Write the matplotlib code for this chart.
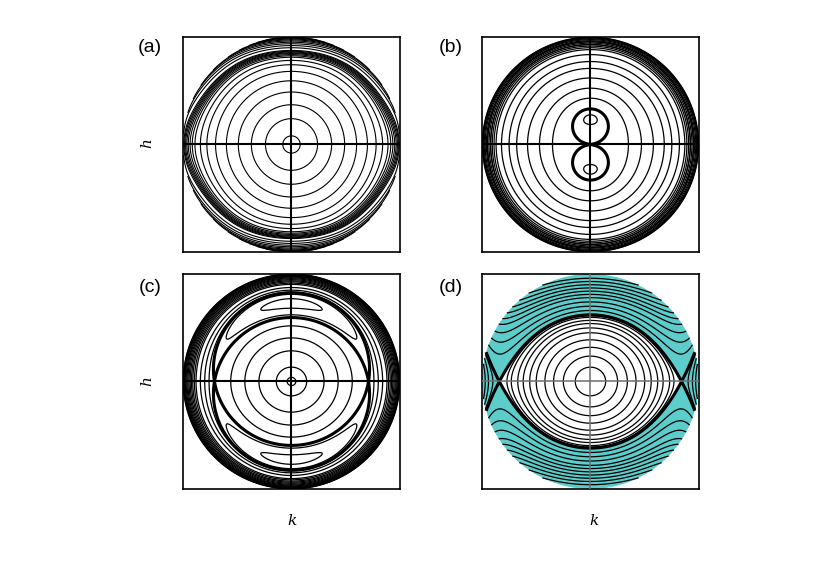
import numpy as np
import matplotlib.pyplot as plt
from matplotlib.patches import Circle

# energy on the upper hemisphere, seen from above:
# H = z + a k^2 + b h^2 + e (k^8 - h^8),  z = sqrt(1 - k^2 - h^2)
par_a = (-1.0, -1.0, 0.45)
par_b = (0.4995, 0.5145, 0.0)
par_c = (0.71, 0.73, 0.0)

# panel (d): H = V(k) + B h^2 (1 - c k^2),  V = k^2 + p k^4 - q k^6
par_d = (-0.2867, 0.3987, 1.1, 0.3)
k_saddle_d = 0.84

# starting points of the drawn orbits
seeds_k_a = [0.08, 0.24, 0.37, 0.49, 0.60, 0.70, 0.78, 0.84, 0.89,
             0.915, 0.935, 0.952, 0.965, 0.976, 0.985, 0.992]
seeds_h_a = [0.90, 0.92, 0.937, 0.951, 0.963, 0.973, 0.981, 0.988,
             0.993, 0.997]

seeds_k_b = [0.35, 0.47, 0.58, 0.68, 0.75, 0.82, 0.87, 0.92, 0.95]
seeds_h_b = [0.276, 0.9, 0.915, 0.93, 0.943, 0.955, 0.965, 0.975,
             0.983, 0.99, 0.995, 0.998]

seeds_k_c_in = [0.04, 0.14, 0.30, 0.43, 0.56]
seeds_k_c_out = [0.76, 0.80, 0.84, 0.88, 0.895, 0.91, 0.922, 0.934, 0.945,
                 0.955, 0.964, 0.972, 0.98, 0.986, 0.991, 0.995, 0.998]
seeds_h_c = [0.62, 0.77]

seeds_k_d_in = [0.14, 0.25, 0.34, 0.42, 0.50, 0.56, 0.62, 0.67, 0.73, 0.77]
seeds_k_d_out = [0.90, 0.94, 0.97]
seeds_h_d = [0.66, 0.70, 0.74, 0.78, 0.81, 0.84, 0.87, 0.90, 0.93, 0.96]

cyan = '#5ccdcb'

plt.rcParams['figure.dpi'] = 100
plt.rcParams['contour.negative_linestyle'] = 'solid'


def H_sph(k, h, p):
    a, b, e = p
    z = np.sqrt(np.clip(1 - k**2 - h**2, 0, None))
    return z + a*k**2 + b*h**2 + e*(k**8 - h**8)


def H_d(k, h, p):
    pp, q, B, c = p
    return k**2 + pp*k**4 - q*k**6 + B*h**2*(1 - c*k**2)


# polar grid, fine near the rim
t = np.linspace(0, np.pi/2, 700)
ph = np.linspace(0, 2*np.pi, 1000)
T, P = np.meshgrid(t, ph)
K = np.sin(T)*np.cos(P)
Hh = np.sin(T)*np.sin(P)


def levels_from(func, p, sk, sh=()):
    lv = [func(s, 0.0, p) for s in sk] + [func(0.0, s, p) for s in sh]
    return np.unique(lv)


def draw(ax, Z, levels, mask=None, lw=0.9, z=2):
    if mask is not None:
        Z = np.ma.masked_where(mask, Z)
    ax.contour(K, Hh, Z, levels=levels, colors='k', linewidths=lw,
               linestyles='solid', zorder=z)


def frame(ax, cross_col='k', cross_lw=1.5):
    ax.axhline(0, color=cross_col, lw=cross_lw, zorder=4)
    ax.axvline(0, color=cross_col, lw=cross_lw, zorder=4)
    ax.set_xlim(-1, 1)
    ax.set_ylim(-1, 1)
    ax.set_xticks([])
    ax.set_yticks([])
    for s in ax.spines.values():
        s.set_linewidth(1.2)


fig = plt.figure(figsize=(8.3, 5.62))
w, hgt = 0.2614, 0.3826
ax_a = fig.add_axes([0.2205, 0.5516, w, hgt])
ax_b = fig.add_axes([0.5807, 0.5516, w, hgt])
ax_c = fig.add_axes([0.2205, 0.1299, w, hgt])
ax_d = fig.add_axes([0.5807, 0.1299, w, hgt])

sep_lw = 2.2

# (a)
Z = H_sph(K, Hh, par_a)
draw(ax_a, Z, levels_from(H_sph, par_a, seeds_k_a, seeds_h_a), lw=0.8)
frame(ax_a)

# (b)
Z = H_sph(K, Hh, par_b)
draw(ax_b, Z, levels_from(H_sph, par_b, seeds_k_b, seeds_h_b))
draw(ax_b, Z, [H_sph(0.0, 0.0, par_b) - 1e-9], lw=sep_lw)
frame(ax_b)

# (c)
xs = np.sqrt(1 - (1/(2*par_c[0]))**2)
Z = H_sph(K, Hh, par_c)
Hs = H_sph(xs, 0.0, par_c)
inner = (Z < Hs) & (np.abs(K) < xs) & (K**2 + Hh**2 < 0.75**2)
draw(ax_c, Z, levels_from(H_sph, par_c, seeds_k_c_in), mask=~inner)
draw(ax_c, Z, levels_from(H_sph, par_c, seeds_k_c_out), mask=inner)
draw(ax_c, Z, levels_from(H_sph, par_c, [], seeds_h_c))
draw(ax_c, Z, [Hs], lw=sep_lw)
frame(ax_c)

# (d)
Z = H_d(K, Hh, par_d)
Hs = H_d(k_saddle_d, 0.0, par_d)
lens = np.abs(K) < k_saddle_d
ax_d.add_patch(Circle((0, 0), 1, fc=cyan, ec='none', zorder=0))
ax_d.contourf(K, Hh, np.where(lens, Z, 1e3), levels=[Z.min() - 1, Hs],
              colors='white', zorder=1)
draw(ax_d, Z, levels_from(H_d, par_d, seeds_k_d_in), mask=~lens)
draw(ax_d, Z, levels_from(H_d, par_d, seeds_k_d_out), mask=lens)
draw(ax_d, Z, levels_from(H_d, par_d, [], seeds_h_d))
draw(ax_d, Z, [Hs], lw=sep_lw)
frame(ax_d, cross_col='#6e6e6e', cross_lw=1.1)

# labels
for x, y, s in [(150, 48, '(a)'), (451, 48, '(b)'), (150, 287, '(c)'), (451, 287, '(d)')]:
    fig.text(x/830, 1 - y/562, s, ha='center', va='center', fontsize=14,
             family='Liberation Sans')
for y in (143, 381):
    fig.text(147/830, 1 - y/562, 'h', rotation=90, ha='center', va='center',
             fontsize=11, family='DejaVu Serif', style='italic')
for x in (292, 594):
    fig.text(x/830, 1 - 521/562, 'k', ha='center', va='center',
             fontsize=11, family='DejaVu Serif', style='italic')

fig.savefig('out.png', dpi=100)
